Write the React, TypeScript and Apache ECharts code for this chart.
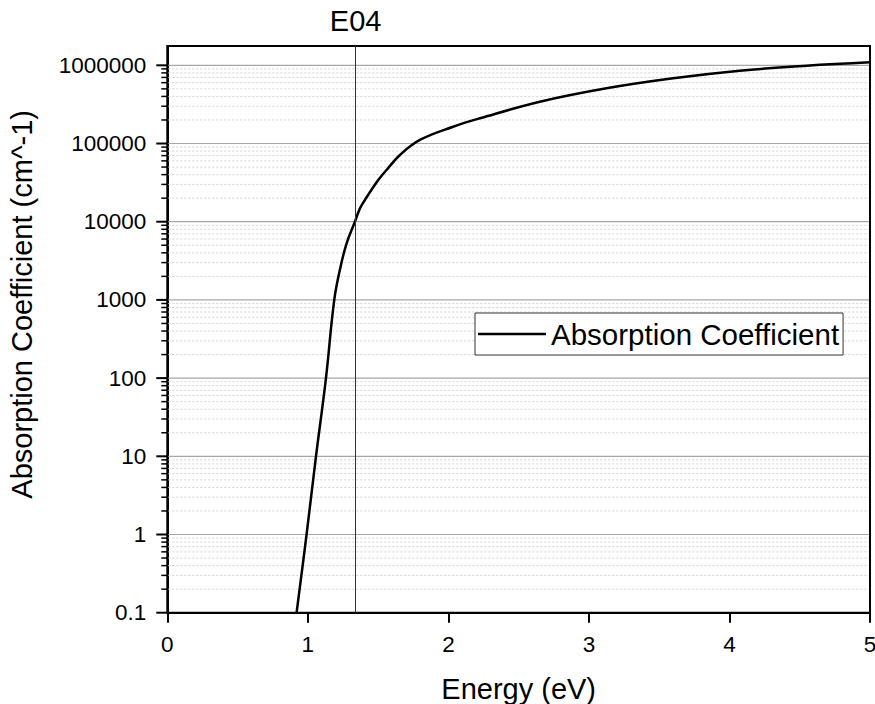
import React, { useEffect, useRef } from "react";
import * as echarts from "echarts";

// Photon energy (eV) and absorption coefficient (cm^-1)
const ENERGY = [0.92, 0.991, 1.058, 1.129, 1.188, 1.233, 1.276, 1.335, 1.371, 1.406, 1.501, 1.56, 1.655, 1.797, 2.034, 2.224, 2.651, 3.125, 3.599, 4.073, 4.548, 5.0];
const ALPHA = [0.1, 1, 10, 100, 1000, 2660, 5300, 10000, 14800, 18950, 34100, 45800, 71300, 111000, 164000, 210000, 342000, 508000, 682000, 853000, 988000, 1092000];

const E04 = 1.339;
const SERIES_NAME = "Absorption Coefficient";

const X_MIN = 0;
const X_MAX = 5;
const X_INTERVAL = 1;
const Y_MIN = 0.1;
const Y_MAX = 1766000;
const Y_DECADES = [-1, 0, 1, 2, 3, 4, 5, 6];
const Y_SUBDIVISIONS = [1, 2, 3, 4, 5, 6, 7, 8, 9];

const FONT = "'Liberation Sans', Arial, Helvetica, sans-serif";

export default function App() {
  const ref = useRef<HTMLDivElement>(null);

  useEffect(() => {
    if (!ref.current) return;
    const chart = echarts.init(ref.current, null, { renderer: "svg" });

    const lineData = ENERGY.map((e, i) => [e, ALPHA[i]]);

    // y grid values (major = decades, minor = 2..9 x decade)
    const gridData: number[][] = [];
    Y_DECADES.forEach((d) => {
      Y_SUBDIVISIONS.forEach((k) => {
        const v = Number((k * Math.pow(10, d)).toPrecision(6));
        if (v >= Y_MIN && v <= Y_MAX) gridData.push([X_MIN, v, k === 1 ? 1 : 0]);
      });
    });

    const option: any = {
      animation: false,
      textStyle: { fontFamily: FONT, color: "#000" },
      grid: {
        left: 167.3,
        right: 5,
        top: 46,
        bottom: 91.3,
        show: true,
        borderColor: "#000",
        borderWidth: 2,
        backgroundColor: "transparent",
        containLabel: false,
        outerBoundsMode: "none",
      },
      legend: {
        data: [{ name: SERIES_NAME, icon: "rect" }],
        left: 475,
        top: 313,
        orient: "vertical",
        itemWidth: 68,
        itemHeight: 2.5,
        padding: [6, 4, 6, 3],
        borderColor: "#333",
        borderWidth: 1,
        borderRadius: 0,
        backgroundColor: "#fff",
        selectedMode: false,
        textStyle: { fontSize: 29.5, color: "#000", fontFamily: FONT },
      },
      xAxis: {
        type: "value",
        min: X_MIN,
        max: X_MAX,
        interval: X_INTERVAL,
        name: "Energy (eV)",
        nameLocation: "middle",
        nameGap: 62,
        nameTextStyle: { fontSize: 29, color: "#000", fontFamily: FONT },
        axisLine: { show: true, onZero: false, lineStyle: { color: "#000", width: 2 } },
        axisTick: { show: true, inside: false, length: 10, lineStyle: { color: "#000", width: 2 } },
        axisLabel: { fontSize: 22.5, color: "#000", margin: 20, fontFamily: FONT },
        splitLine: { show: false },
      },
      yAxis: {
        type: "log",
        logBase: 10,
        min: Y_MIN,
        max: Y_MAX,
        name: "Absorption Coefficient (cm^-1)",
        nameLocation: "middle",
        nameGap: 131,
        nameTextStyle: { fontSize: 29, color: "#000", fontFamily: FONT, padding: [0, 0, 0, 50] },
        axisLine: { show: true, onZero: false, lineStyle: { color: "#000", width: 2 } },
        axisTick: { show: false },
        axisLabel: {
          fontSize: 22.5,
          color: "#000",
          margin: 21,
          fontFamily: FONT,
          formatter: (v: number) => {
            const l = Math.log10(v);
            if (Math.abs(l - Math.round(l)) > 1e-6) return "";
            return String(Number(v.toPrecision(6)));
          },
        },
        splitLine: { show: false },
        minorSplitLine: { show: false },
      },
      series: [
        {
          type: "custom",
          silent: true,
          z: 1,
          clip: false,
          encode: { x: 0, y: 1 },
          data: gridData,
          renderItem: (params: any, api: any) => {
            const v = api.value(1);
            const major = api.value(2) === 1;
            const p0 = api.coord([X_MIN, v]);
            const p1 = api.coord([X_MAX, v]);
            const children: any[] = [];
            const isEdge = Math.abs(v - Y_MIN) < 1e-9;
            if (!isEdge) {
              children.push({
                type: "line",
                shape: { x1: p0[0] + 1, y1: p0[1], x2: p1[0] - 1, y2: p1[1] },
                style: major
                  ? { stroke: "#a8a8a8", lineWidth: 1.2 }
                  : { stroke: "#d2d2d2", lineWidth: 1, lineDash: [2, 2] },
              });
            }
            children.push({
              type: "line",
              shape: { x1: p0[0] - (major ? 11 : 6), y1: p0[1], x2: p0[0], y2: p0[1] },
              style: { stroke: "#000", lineWidth: major ? 2 : 1.5 },
            });
            return { type: "group", children };
          },
        },
        {
          name: SERIES_NAME,
          type: "line",
          data: lineData,
          showSymbol: false,
          symbol: "none",
          smooth: 0.4,
          z: 3,
          lineStyle: { color: "#000", width: 2.5 },
          itemStyle: { color: "#000" },
          emphasis: { disabled: true },
          markLine: {
            silent: true,
            symbol: ["none", "none"],
            lineStyle: { color: "#333", width: 1, type: "solid" },
            label: {
              show: true,
              position: "end",
              formatter: "E04",
              fontSize: 29,
              color: "#000",
              distance: 11,
              fontFamily: FONT,
            },
            emphasis: { disabled: true },
            data: [{ xAxis: E04 }],
          },
        },
      ],
    };

    chart.setOption(option);
    return () => chart.dispose();
  }, []);

  return (
    <div
      ref={ref}
      style={{ position: "absolute", left: 0, top: 0, width: 875, height: 704, background: "#fff" }}
    />
  );
}
